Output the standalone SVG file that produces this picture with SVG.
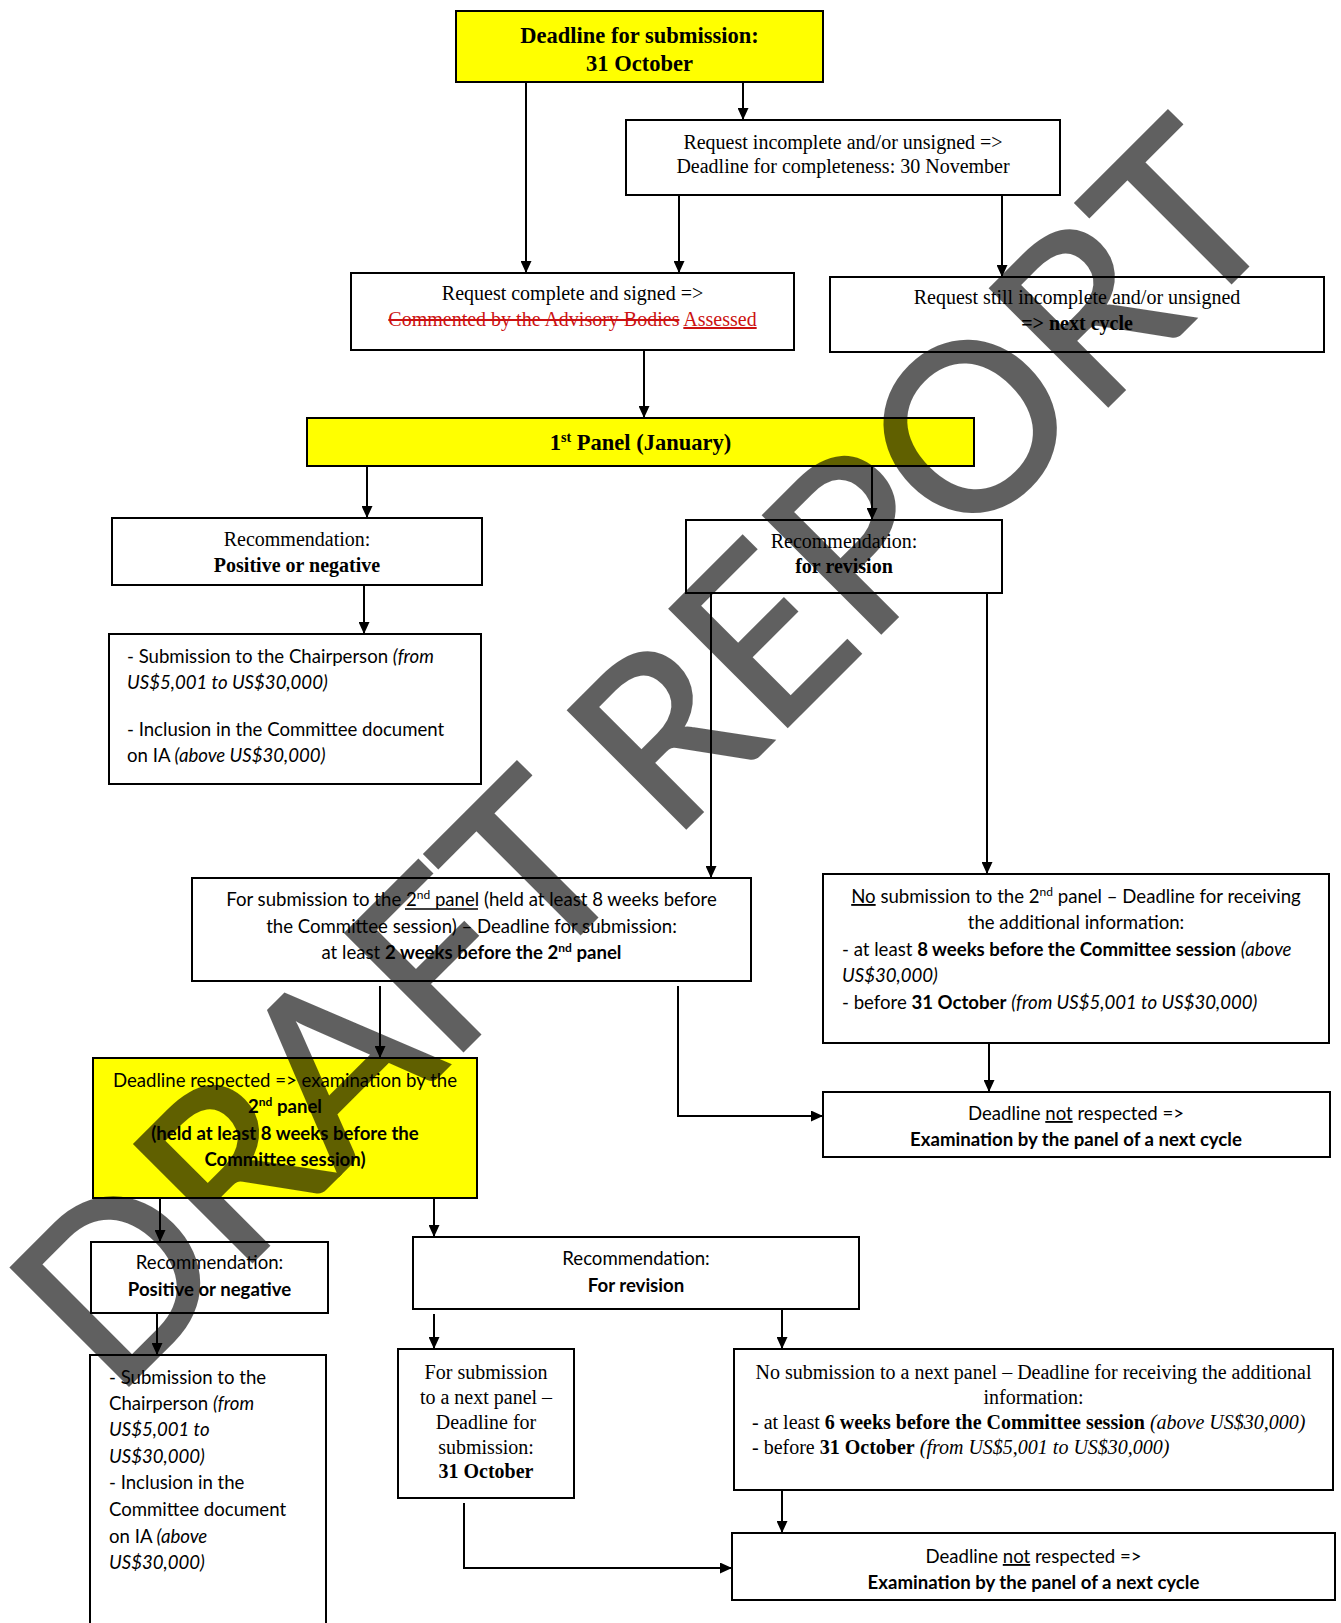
<svg xmlns="http://www.w3.org/2000/svg" width="1341" height="1623" viewBox="0 0 1341 1623">
<style>
.bx{fill:#fff;stroke:#000;stroke-width:2}
.yb{fill:#ff0;stroke:#000;stroke-width:2}
.tr{font-family:"Liberation Serif","Times New Roman",serif;font-size:20px;fill:#000}
.ca{font-family:Lato,"Liberation Sans",sans-serif;font-size:18.6px;fill:#000}
.big{font-size:22.5px}
.c{text-anchor:middle}
.b{font-weight:bold}
.i{font-style:italic}
.u{text-decoration:underline}
.s{text-decoration:line-through}
.red{fill:#cc1111}
.ln{fill:none;stroke:#000;stroke-width:2;marker-end:url(#ah)}
.ul{stroke:#000;stroke-width:1.3}
.wm{font-family:Lato,"Liberation Sans",sans-serif;font-size:232px;fill:#000;stroke:#000;stroke-width:3}
</style>
<defs>
<marker id="ah" viewBox="0 0 12 11" refX="12" refY="5.5" markerWidth="12" markerHeight="11" markerUnits="userSpaceOnUse" orient="auto"><path d="M0,0 L12,5.5 L0,11 z" fill="#000"/></marker>
</defs>

<g id="connectors">
<path class="ln" d="M526,82 V273"/>
<path class="ln" d="M743,82 V120"/>
<path class="ln" d="M679,195 V273"/>
<path class="ln" d="M1002,195 V277"/>
<path class="ln" d="M644,350 V418"/>
<path class="ln" d="M367,466 V518"/>
<path class="ln" d="M872,466 V520"/>
<path class="ln" d="M364,585 V634"/>
<path class="ln" d="M711,593 V878"/>
<path class="ln" d="M987,593 V874"/>
<path class="ln" d="M380,986 V1058"/>
<path class="ln" d="M678,986 V1116 H823"/>
<path class="ln" d="M989,1043 V1092"/>
<path class="ln" d="M160,1198 V1242"/>
<path class="ln" d="M434,1198 V1237"/>
<path class="ln" d="M157,1313 V1355"/>
<path class="ln" d="M434,1314 V1349"/>
<path class="ln" d="M782,1309 V1349"/>
<path class="ln" d="M464,1503 V1568 H732"/>
<path class="ln" d="M782,1490 V1533"/>
</g>

<g id="deadline-submission">
<rect class="yb" x="456" y="11" width="367" height="71"/>
<text class="tr big c b" x="639.5" y="43">Deadline for submission:</text>
<text class="tr big c b" x="639.5" y="71">31 October</text>
</g>

<g id="request-incomplete">
<rect class="bx" x="626" y="120" width="434" height="75"/>
<text class="tr c" x="843" y="149">Request incomplete and/or unsigned =&gt;</text>
<text class="tr c" x="843" y="173">Deadline for completeness: 30 November</text>
</g>

<g id="request-complete">
<rect class="bx" x="351" y="273" width="443" height="77"/>
<text class="tr c" x="572.5" y="300">Request complete and signed =&gt;</text>
<text class="tr c red" x="572.5" y="326"><tspan class="s">Commented by the Advisory Bodies</tspan> <tspan class="u">Assessed</tspan></text>
</g>

<g id="request-still-incomplete">
<rect class="bx" x="830" y="277" width="494" height="75"/>
<text class="tr c" x="1077" y="304">Request still incomplete and/or unsigned</text>
<text class="tr c b" x="1077" y="330">=&gt; next cycle</text>
</g>

<g id="first-panel">
<rect class="yb" x="307" y="418" width="667" height="48"/>
<text class="tr big c b" x="640.5" y="450">1<tspan dy="-8" font-size="14">st</tspan><tspan dy="8"> Panel (January)</tspan></text>
</g>

<g id="rec-positive-1">
<rect class="bx" x="112" y="518" width="370" height="67"/>
<text class="tr c" x="297" y="546">Recommendation:</text>
<text class="tr c b" x="297" y="572">Positive or negative</text>
</g>

<g id="rec-revision-1">
<rect class="bx" x="686" y="520" width="316" height="73"/>
<text class="tr c" x="844" y="548">Recommendation:</text>
<text class="tr c b" x="844" y="573">for revision</text>
</g>

<g id="submission-chair-1">
<rect class="bx" x="109" y="634" width="372" height="150"/>
<text class="ca" x="127" y="663">- Submission to the Chairperson <tspan class="i">(from</tspan></text>
<text class="ca i" x="127" y="689">US$5,001 to US$30,000)</text>
<text class="ca" x="127" y="736">- Inclusion in the Committee document</text>
<text class="ca" x="127" y="762">on IA <tspan class="i">(above US$30,000)</tspan></text>
</g>

<g id="second-panel-submission">
<rect class="bx" x="192" y="878" width="559" height="103"/>
<text class="ca c" x="471.5" y="906">For submission to the 2<tspan dy="-7" font-size="12">nd</tspan><tspan dy="7"> panel (held at least 8 weeks before</tspan></text>
<line class="ul" x1="405" y1="909" x2="478" y2="909"/>
<text class="ca c" x="471.5" y="933">the Committee session) – Deadline for submission:</text>
<text class="ca c" x="471.5" y="959">at least <tspan class="b">2 weeks before the 2<tspan dy="-7" font-size="12">nd</tspan><tspan dy="7"> panel</tspan></tspan></text>
</g>

<g id="no-second-panel">
<rect class="bx" x="823" y="874" width="506" height="169"/>
<text class="ca c" x="1076" y="903"><tspan class="u">No</tspan> submission to the 2<tspan dy="-7" font-size="12">nd</tspan><tspan dy="7"> panel – Deadline for receiving</tspan></text>
<text class="ca c" x="1076" y="929">the additional information:</text>
<text class="ca" x="842" y="956">- at least <tspan class="b">8 weeks before the Committee session</tspan> <tspan class="i">(above</tspan></text>
<text class="ca i" x="842" y="982">US$30,000)</text>
<text class="ca" x="842" y="1009">- before <tspan class="b">31 October</tspan> <tspan class="i">(from US$5,001 to US$30,000)</tspan></text>
</g>

<g id="deadline-respected">
<rect class="yb" x="93" y="1058" width="384" height="140"/>
<text class="ca c" x="285" y="1087">Deadline respected =&gt; examination by the</text>
<text class="ca c b" x="285" y="1113">2<tspan dy="-7" font-size="12">nd</tspan><tspan dy="7"> panel</tspan></text>
<text class="ca c b" x="285" y="1140">(held at least 8 weeks before the</text>
<text class="ca c b" x="285" y="1166">Committee session)</text>
</g>

<g id="not-respected-1">
<rect class="bx" x="823" y="1092" width="507" height="65"/>
<text class="ca c" x="1076" y="1120">Deadline <tspan class="u">not</tspan> respected =&gt;</text>
<text class="ca c b" x="1076" y="1146">Examination by the panel of a next cycle</text>
</g>

<g id="rec-positive-2">
<rect class="bx" x="91" y="1242" width="237" height="71"/>
<text class="ca c" x="209.5" y="1269">Recommendation:</text>
<text class="ca c b" x="209.5" y="1296">Positive or negative</text>
</g>

<g id="rec-revision-2">
<rect class="bx" x="413" y="1237" width="446" height="72"/>
<text class="ca c" x="636" y="1265">Recommendation:</text>
<text class="ca c b" x="636" y="1292">For revision</text>
</g>

<g id="submission-chair-2">
<rect class="bx" x="90" y="1355" width="236" height="290"/>
<text class="ca" x="109" y="1384">- Submission to the</text>
<text class="ca" x="109" y="1410">Chairperson <tspan class="i">(from</tspan></text>
<text class="ca i" x="109" y="1436">US$5,001 to</text>
<text class="ca i" x="109" y="1463">US$30,000)</text>
<text class="ca" x="109" y="1489">- Inclusion in the</text>
<text class="ca" x="109" y="1516">Committee document</text>
<text class="ca" x="109" y="1543">on IA <tspan class="i">(above</tspan></text>
<text class="ca i" x="109" y="1569">US$30,000)</text>
</g>

<g id="next-panel-submission">
<rect class="bx" x="398" y="1349" width="176" height="149"/>
<text class="tr c" x="486" y="1379">For submission</text>
<text class="tr c" x="486" y="1404">to a next panel –</text>
<text class="tr c" x="486" y="1429">Deadline for</text>
<text class="tr c" x="486" y="1454">submission:</text>
<text class="tr c b" x="486" y="1478">31 October</text>
</g>

<g id="no-next-panel">
<rect class="bx" x="734" y="1349" width="599" height="141"/>
<text class="tr c" x="1033.5" y="1379">No submission to a next panel – Deadline for receiving the additional</text>
<text class="tr c" x="1033.5" y="1404">information:</text>
<text class="tr" x="752" y="1429">- at least <tspan class="b">6 weeks before the Committee session</tspan> <tspan class="i">(above US$30,000)</tspan></text>
<text class="tr" x="752" y="1454">- before <tspan class="b">31 October</tspan> <tspan class="i">(from US$5,001 to US$30,000)</tspan></text>
</g>

<g id="not-respected-2">
<rect class="bx" x="732" y="1533" width="603" height="67"/>
<text class="ca c" x="1033.5" y="1563">Deadline <tspan class="u">not</tspan> respected =&gt;</text>
<text class="ca c b" x="1033.5" y="1589">Examination by the panel of a next cycle</text>
</g>

<g id="watermark" opacity="0.62">
<text class="wm" transform="translate(114,1400) rotate(-45)" x="0" y="0" textLength="1660" lengthAdjust="spacing">DRAFT REPORT</text>
</g>
</svg>
